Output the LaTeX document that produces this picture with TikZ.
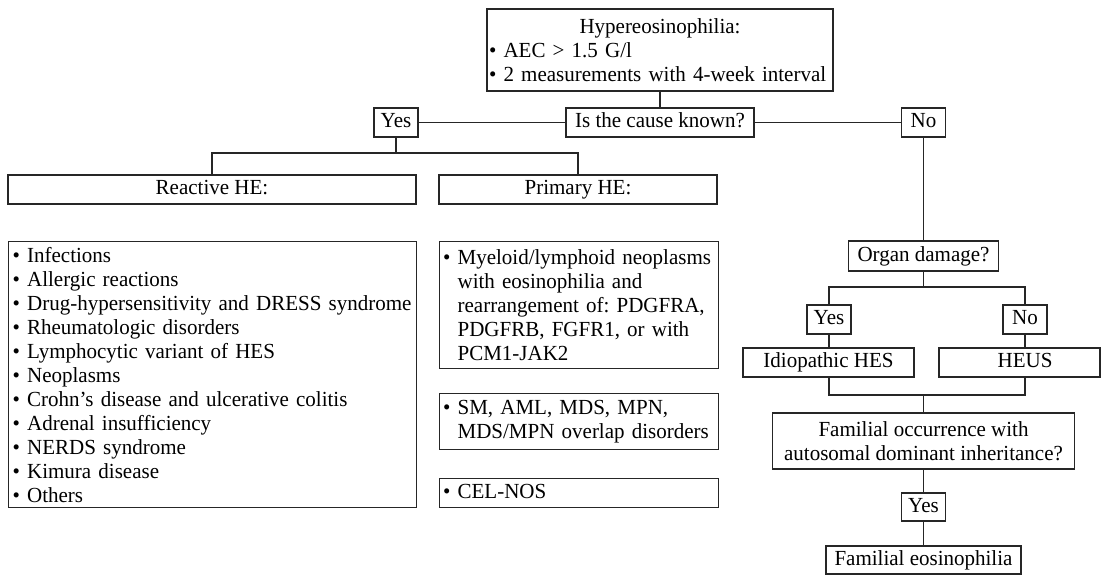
\documentclass[tikz,border=0pt]{standalone}
\usepackage{fontspec}
\setmainfont[FakeStretch=0.977]{Liberation Serif}
\newcommand{\ind}{\hphantom{\textbullet\ }}
\newcommand{\bl}{\textbullet\ }
\begin{document}
\begin{tikzpicture}[x=1pt,y=-1pt,
  every node/.style={font=\fontsize{21.5}{24}\selectfont\frenchspacing},
  box/.style={draw=black!85, line width=1.2pt, rectangle, inner sep=0pt, align=center},
  one/.style={box, text height=15pt, text depth=4.5pt},
  multi/.style={box, align=left, inner xsep=3.5pt, inner ysep=0pt},
  link/.style={draw=black!85, line width=1.2pt}
]
\useasboundingbox (0,0) rectangle (1102,577);
\fill[white] (0,0) rectangle (1102,577);

% top
\node[multi, inner xsep=2pt, minimum width=346pt, minimum height=82pt, text width=342pt] (top) at (660,50)
  {\makebox[\linewidth][c]{Hypereosinophilia:}\\
   \mbox{\bl AEC > 1.5 G/l}\\
   \mbox{\bl 2 measurements with 4-week interval}};

\node[one, minimum width=188pt, minimum height=29pt] (cause) at (660,122.5) {Is the cause known?};
\node[one, minimum width=44pt, minimum height=29pt] (yes1) at (396,122.5) {Yes};
\node[one, minimum width=44pt, minimum height=29pt] (no1) at (923.5,122.5) {No};

\node[one, minimum width=408pt, minimum height=29pt] (reactive) at (212,189.5) {Reactive HE:};
\node[one, minimum width=278pt, minimum height=29pt] (primary) at (578,189.5) {Primary HE:};

\node[multi, inner xsep=4pt, anchor=north west, minimum width=408pt, minimum height=266pt, text width=400pt] (rlist) at (8,241)
  {\mbox{\bl Infections}\\
   \mbox{\bl Allergic reactions}\\
   \mbox{\bl Drug-hypersensitivity and DRESS syndrome}\\
   \mbox{\bl Rheumatologic disorders}\\
   \mbox{\bl Lymphocytic variant of HES}\\
   \mbox{\bl Neoplasms}\\
   \mbox{\bl Crohn’s disease and ulcerative colitis}\\
   \mbox{\bl Adrenal insufficiency}\\
   \mbox{\bl NERDS syndrome}\\
   \mbox{\bl Kimura disease}\\
   \mbox{\bl Others}};

\node[multi, anchor=north west, minimum width=279pt, minimum height=127pt, text width=272pt] (p1) at (439,241)
  {\mbox{\bl Myeloid/lymphoid neoplasms}\\
   \mbox{\ind with eosinophilia and}\\
   \mbox{\ind rearrangement of: PDGFRA,}\\
   \mbox{\ind PDGFRB, FGFR1, or with}\\
   \mbox{\ind PCM1-JAK2}};
\node[multi, anchor=north west, minimum width=279pt, minimum height=56pt, text width=272pt] (p2) at (439,393)
  {\mbox{\bl SM, AML, MDS, MPN,}\\
   \mbox{\ind MDS/MPN overlap disorders}};
\node[multi, anchor=north west, minimum width=279pt, minimum height=29pt, text width=272pt,
      text height=15pt, text depth=4.5pt] (p3) at (439,478)
  {\mbox{\bl CEL-NOS}};

% right branch
\node[one, minimum width=150pt, minimum height=30pt] (organ) at (923.5,256) {Organ damage?};
\node[one, minimum width=44pt, minimum height=29pt] (yes2) at (829,319.5) {Yes};
\node[one, minimum width=44pt, minimum height=29pt] (no2) at (1025,319.5) {No};
\node[one, minimum width=171pt, minimum height=29pt] (idio) at (828.5,362.5) {Idiopathic HES};
\node[one, minimum width=161pt, minimum height=29pt] (heus) at (1019.5,362.5) {\hspace*{11pt}HEUS};
\node[box, minimum width=302pt, minimum height=56pt] (famocc) at (923.5,441)
  {Familial occurrence with\\autosomal dominant inheritance?};
\node[one, minimum width=44pt, minimum height=28pt] (yes3) at (923.5,507) {Yes};
\node[one, minimum width=195pt, minimum height=28pt] (fameos) at (923.5,560) {Familial eosinophilia};

\coordinate (j1) at (396,153);
\coordinate (j2) at (923.5,287);
\coordinate (j3) at (923.5,395);

\draw[link] (top.south) -- (cause.north);
\draw[link] (yes1.east) -- (cause.west);
\draw[link] (cause.east) -- (no1.west);
\draw[link] (yes1.south) -- (j1);
\draw[link] (reactive.north) |- (j1) -| (primary.north);
\draw[link] (no1.south) -- (organ.north);
\draw[link] (organ.south) -- (j2);
\draw[link] (yes2.north) |- (j2) -| (no2.north);
\draw[link] (yes2.south) -- (yes2 |- idio.north);
\draw[link] (no2.south) -- (no2 |- heus.north);
\draw[link] (yes2 |- idio.south) |- (j3) -| (no2 |- heus.south);
\draw[link] (j3) -- (famocc.north);
\draw[link] (famocc.south) -- (yes3.north);
\draw[link] (yes3.south) -- (fameos.north);
\end{tikzpicture}
\end{document}
